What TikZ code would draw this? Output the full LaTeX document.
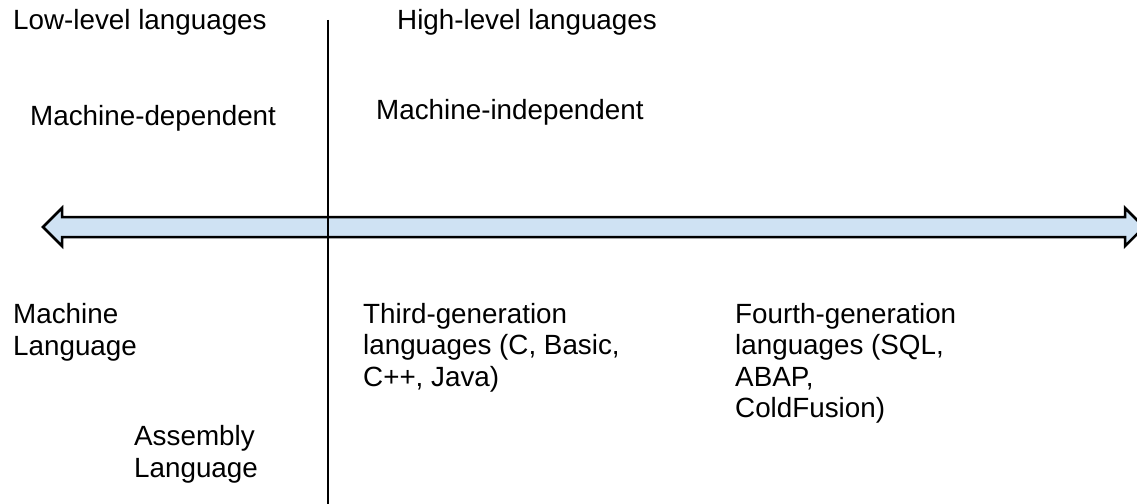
\documentclass[tikz,border=0pt]{standalone}
\usepackage{fontspec}
\setmainfont{Liberation Sans}
\definecolor{arrowblue}{HTML}{CFE2F3}
\tikzset{
  lbl/.style={anchor=base west, inner sep=0pt, align=left, font=\fontsize{27.8}{31.5}\selectfont},
  axis/.style={draw=black, line width=2pt},
  dblarrow/.style={draw=black, fill=arrowblue, line width=2.5pt, line join=miter}
}
\begin{document}
\begin{tikzpicture}[x=1pt,y=-1pt]
\useasboundingbox (0,0) rectangle (1137,503);
% double arrow
\draw[dblarrow] (43,227) -- (62,208) -- (62,217) -- (1125,217) -- (1125,208) -- (1144,227)
  -- (1125,246) -- (1125,237) -- (62,237) -- (62,246) -- cycle;
% vertical divider
\coordinate (top) at (328,20);
\coordinate (bot) at (328,505);
\draw[axis] (top) -- (bot);
% labels (multi-line nodes: base = baseline of last line)
\node[lbl] (low) at (13,30) {Low-level languages};
\node[lbl] (high) at (397,30) {High-level languages};
\node[lbl] (mdep) at (30,125) {Machine-dependent};
\node[lbl] (mind) at (376,119) {Machine-independent};
\node[lbl] (ml) at (13,355) {Machine\\Language};
\node[lbl] (asm) at (134,477) {Assembly\\Language};
\node[lbl] (third) at (363,386) {Third-generation\\languages (C, Basic,\\C++, Java)};
\node[lbl] (fourth) at (735,417.5) {Fourth-generation\\languages (SQL,\\ABAP,\\ColdFusion)};
\end{tikzpicture}
\end{document}
